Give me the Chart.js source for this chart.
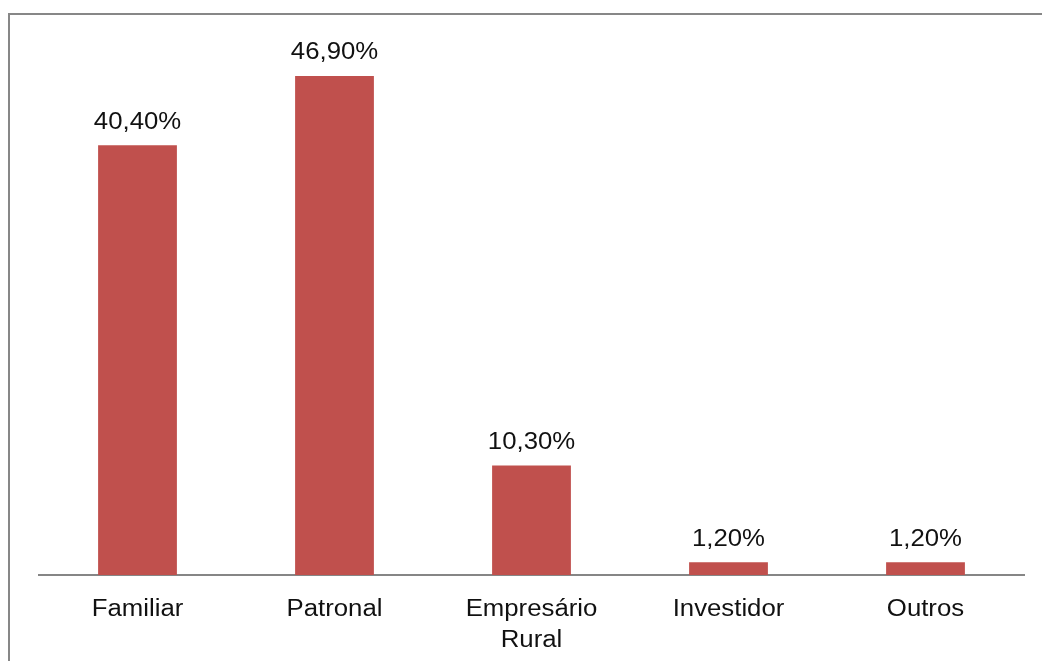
<!DOCTYPE html>
<html>
<head>
<meta charset="utf-8">
<script src="https://cdn.jsdelivr.net/npm/chart.js@4.4.1/dist/chart.umd.min.js"></script>
<style>
  html, body { margin: 0; padding: 0; background: #ffffff; }
  #wrap { position: relative; width: 1042px; height: 661px; }
  canvas { display: block; }
</style>
</head>
<body>
<div id="wrap"><canvas id="c" width="1042" height="661"></canvas></div>
<script>
const categories = [["Familiar"], ["Patronal"], ["Empresário", "Rural"], ["Investidor"], ["Outros"]];
const values = [40.4, 46.9, 10.3, 1.2, 1.2];
const valueLabels = ["40,40%", "46,90%", "10,30%", "1,20%", "1,20%"];

const BAR_COLOR = "#C0504D";
const FONT = "23px 'Liberation Sans', Arial, sans-serif";
const STRETCH = 1.12;

function drawStretched(ctx, text, x, y) {
  ctx.save();
  ctx.translate(x, y);
  ctx.scale(STRETCH, 1);
  ctx.fillText(text, 0, 0);
  ctx.restore();
}

const decor = {
  id: "decor",
  beforeDraw(chart) {
    const ctx = chart.ctx;
    ctx.save();
    ctx.fillStyle = "#ffffff";
    ctx.fillRect(0, 0, chart.width, chart.height);
    ctx.fillStyle = "#878787";
    ctx.fillRect(8, 13, 2, chart.height - 13);
    ctx.fillRect(8, 13, chart.width - 8, 2);
    ctx.restore();
  },
  afterDraw(chart) {
    const ctx = chart.ctx;
    const meta = chart.getDatasetMeta(0);
    const xs = chart.scales.x;
    ctx.save();
    ctx.fillStyle = "#111111";
    ctx.font = FONT;
    ctx.textAlign = "center";
    ctx.textBaseline = "alphabetic";
    meta.data.forEach((bar, i) => {
      drawStretched(ctx, valueLabels[i], bar.x, bar.y - 16.5);
    });
    categories.forEach((lines, i) => {
      const x = xs.getPixelForTick(i);
      lines.forEach((ln, j) => {
        drawStretched(ctx, ln, x, chart.chartArea.bottom + 40.5 + j * 31);
      });
    });
    ctx.restore();
  }
};

new Chart(document.getElementById("c"), {
  type: "bar",
  data: {
    labels: categories,
    datasets: [{
      data: values,
      backgroundColor: BAR_COLOR,
      borderWidth: 0,
      categoryPercentage: 1.0,
      barPercentage: 0.4
    }]
  },
  options: {
    responsive: false,
    animation: false,
    devicePixelRatio: 1,
    layout: { padding: { left: 39, right: 18, top: 43, bottom: 0 } },
    plugins: { legend: { display: false }, tooltip: { enabled: false } },
    scales: {
      x: {
        grid: { display: false, drawTicks: false },
        border: { display: true, color: "#868686", width: 2 },
        ticks: { display: false },
        afterFit(scale) { scale.height = 86; }
      },
      y: {
        display: false,
        min: 0,
        max: 50
      }
    }
  },
  plugins: [decor]
});
</script>
</body>
</html>
